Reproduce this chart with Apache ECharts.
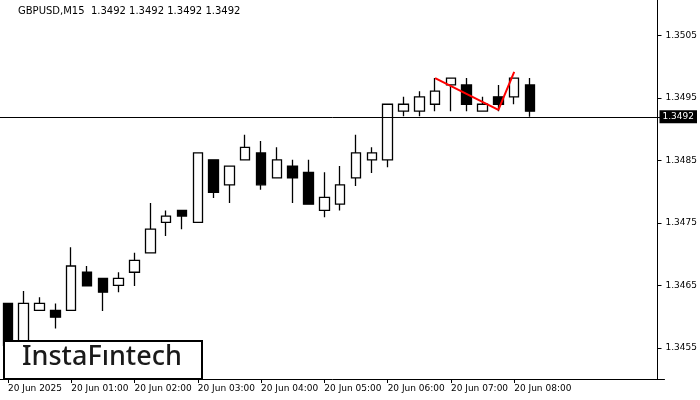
<!DOCTYPE html>
<html><head><meta charset="utf-8">
<script src="https://cdn.jsdelivr.net/npm/echarts@6/dist/echarts.min.js"></script>
<style>html,body{margin:0;padding:0;background:#fff}#c{width:700px;height:400px}</style>
</head><body><div id="c"></div>
<script>
const categories = ["00:00","00:15","00:30","00:45","01:00","01:15","01:30","01:45","02:00","02:15","02:30","02:45","03:00","03:15","03:30","03:45","04:00","04:15","04:30","04:45","05:00","05:15","05:30","05:45","06:00","06:15","06:30","06:45","07:00","07:15","07:30","07:45","08:00","08:15","08:30","08:45","09:00","09:15","09:30","09:45","10:00","10:15"];
const xTickLabels = ["20 Jun 2025","20 Jun 01:00","20 Jun 02:00","20 Jun 03:00","20 Jun 04:00","20 Jun 05:00","20 Jun 06:00","20 Jun 07:00","20 Jun 08:00"];
// [open, close, low, high]
const ohlc = [
[1.34621,1.34554,1.34546,1.34621],[1.34559,1.34621,1.34554,1.34641],[1.34610,1.34621,1.34610,1.34631],[1.34610,1.34599,1.34581,1.34621],
[1.34610,1.34681,1.34610,1.34711],[1.34671,1.34649,1.34649,1.34681],[1.34661,1.34639,1.34609,1.34661],[1.34650,1.34661,1.34639,1.34671],
[1.34671,1.34690,1.34649,1.34702],[1.34702,1.34740,1.34702,1.34782],[1.34751,1.34761,1.34729,1.34770],[1.34770,1.34761,1.34740,1.34770],
[1.34751,1.34862,1.34751,1.34862],[1.34851,1.34799,1.34790,1.34851],[1.34811,1.34841,1.34782,1.34841],[1.34851,1.34871,1.34851,1.34891],
[1.34862,1.34811,1.34803,1.34881],[1.34822,1.34851,1.34822,1.34871],[1.34841,1.34822,1.34782,1.34851],[1.34831,1.34780,1.34780,1.34851],
[1.34770,1.34791,1.34759,1.34831],[1.34780,1.34811,1.34770,1.34841],[1.34822,1.34862,1.34809,1.34891],[1.34851,1.34862,1.34830,1.34871],
[1.34851,1.34940,1.34839,1.34940],[1.34929,1.34940,1.34921,1.34952],[1.34929,1.34952,1.34921,1.34961],[1.34940,1.34961,1.34929,1.34982],
[1.34971,1.34982,1.34929,1.34982],[1.34971,1.34940,1.34929,1.34982],[1.34929,1.34940,1.34929,1.34952],[1.34952,1.34940,1.34929,1.34971],
[1.34952,1.34982,1.34940,1.34982],[1.34971,1.34929,1.34920,1.34982]
];
const patternIdx = [27,31,32];
const patternVal = [1.34982,1.34931,1.34992];
const yTicks = [1.3455,1.3465,1.3475,1.3485,1.3495,1.3505];
const currentPrice = 1.3492;
const title = "GBPUSD,M15  1.3492 1.3492 1.3492 1.3492";

const pattern = categories.map(()=>null);
patternIdx.forEach((i,k)=>pattern[i]=patternVal[k]);
const font = "Tahoma, 'DejaVu Sans', sans-serif";
const chart = echarts.init(document.getElementById('c'));
chart.setOption({
  animation:false,
  grid:{left:-5,right:33,top:0,bottom:21},
  xAxis:{type:'category',data:categories,boundaryGap:true,
    axisLine:{lineStyle:{color:'#000',width:1}},
    axisTick:{show:true,interval:(i)=>i%4===0 && i/4<xTickLabels.length,alignWithLabel:true,length:4,lineStyle:{color:'#000'}},
    axisLabel:{interval:(i)=>i%4===0 && i/4<xTickLabels.length,formatter:(v,i)=>xTickLabels[i/4]||'',align:'left',margin:5,color:'#000',fontSize:9,fontFamily:font},
    splitLine:{show:false}},
  yAxis:{type:'value',position:'right',offset:-7,min:1.34500,max:1.35107,
    axisLine:{show:true,lineStyle:{color:'#000'}},
    axisTick:{show:true,customValues:yTicks,length:4,lineStyle:{color:'#000'}},
    axisLabel:{customValues:yTicks,formatter:v=>v.toFixed(4),color:'#000',fontSize:9,fontFamily:font,margin:8},
    splitLine:{show:false}},
  graphic:[
    {type:'text',left:18,top:6,style:{text:title,fontSize:10,fontFamily:font,fill:'#000'}},
    {type:'rect',left:3,top:340,shape:{width:198,height:38},style:{fill:'#fff',stroke:'#000',lineWidth:2},z:100},
    {type:'text',left:22,top:344,style:{text:'InstaFıntech',fontSize:27,fontWeight:500,fontFamily:"'Noto Sans', sans-serif",fill:'#1a1a1a'},z:101}
  ],
  series:[
    {type:'candlestick',data:ohlc,barWidth:10,
      itemStyle:{color:'#fff',color0:'#000',borderColor:'#000',borderColor0:'#000',borderWidth:1.3}},
    {type:'line',data:pattern,connectNulls:true,symbol:'none',lineStyle:{color:'#ff0000',width:2},z:10,
      markLine:{symbol:'none',silent:true,animation:false,precision:4,
        lineStyle:{color:'#000',width:1,type:'solid'},
        label:{show:true,position:'end',formatter:()=>currentPrice.toFixed(4),backgroundColor:'#000',color:'#fff',fontSize:9,fontFamily:font,padding:[2,3],distance:-5},
        data:[{yAxis:currentPrice}]}}
  ]
});
</script></body></html>
